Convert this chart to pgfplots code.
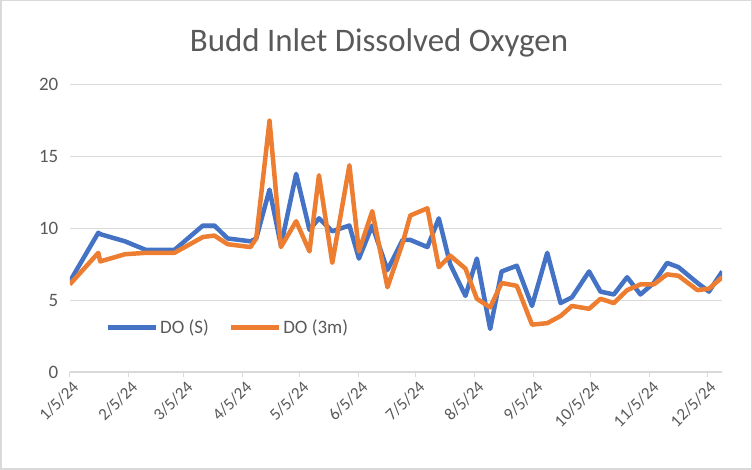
\documentclass[border=0pt]{standalone}
\usepackage{fontspec}
\setmainfont{Carlito}
\usepackage{pgfplots}
\pgfplotsset{compat=1.18}
\usepackage{pgfplotstable}
\definecolor{xlblue}{HTML}{4472C4}
\definecolor{xlorange}{HTML}{ED7D31}
\definecolor{xltext}{HTML}{595959}
\definecolor{xlgrid}{HTML}{D9D9D9}
\pgfplotstableread{
day S M
5 6.3 6.1
20 9.7 8.3
21 9.6 7.7
34 9.1 8.2
45 8.5 8.3
60 8.5 8.3
75 10.2 9.4
81 10.2 9.5
88 9.3 8.9
100 9.1 8.7
103 9.3 9.3
110 12.7 17.5
116 8.8 8.7
124 13.8 10.5
131 9.9 8.4
136 10.7 13.7
143 9.8 7.6
152 10.2 14.4
157 7.9 8.4
164 10.2 11.2
172 7.1 5.9
180 9.2 9.0
184 9.2 10.9
193 8.7 11.4
199 10.7 7.3
205 7.5 8.1
213 5.3 7.2
219 7.9 5.1
226 3.0 4.5
232 7.0 6.2
240 7.4 6.0
248 4.6 3.3
256 8.3 3.4
263 4.8 3.9
269 5.2 4.6
278 7.0 4.4
284 5.6 5.1
291 5.4 4.8
298 6.6 5.7
305 5.4 6.1
312 6.2 6.1
319 7.6 6.8
325 7.3 6.7
335 6.2 5.7
341 5.6 5.8
348 7.0 6.6
}\dotable
\begin{document}
\begin{tikzpicture}
\begin{axis}[
  name=ax,
  scale only axis,
  width=652bp, height=287bp,
  xmin=5, xmax=348, ymin=0, ymax=20,
  axis x line*=bottom,
  axis y line*=left,
  x axis line style={xlgrid, line width=1.5bp},
  y axis line style={draw=none},
  ytick={0,5,10,15,20},
  ytick style={draw=none},
  ymajorgrids,
  grid style={xlgrid, line width=1.2bp},
  xtick={5,36,65,96,126,157,187,218,249,279,310,340},
  xticklabels={1/5/24,2/5/24,3/5/24,4/5/24,5/5/24,6/5/24,7/5/24,8/5/24,9/5/24,10/5/24,11/5/24,12/5/24},
  x tick label style={rotate=45, anchor=north east, font=\fontsize{17}{20}\selectfont, text=xltext, inner sep=1bp, yshift=-2bp},
  y tick label style={font=\fontsize{19}{21}\selectfont, text=xltext},
  yticklabel style={xshift=-8bp},
  /pgf/number format/assume math mode=true,
  xtick align=outside,
  major tick length=5bp,
  x tick style={xlgrid, line width=1bp},
  legend style={at={(0.05,0.155)}, anchor=west, draw=none, fill=none, legend columns=2,
    font=\fontsize{19}{21}\selectfont, text=xltext,
    /tikz/every even column/.append style={column sep=18bp}},
  legend image code/.code={\draw[#1, line width=4.5bp] (0bp,0bp) -- (48bp,0bp);},
]
\addplot[xlblue, line width=4.5bp, line join=round] table[x=day, y=S] {\dotable};
\addlegendentry{DO (S)}
\addplot[xlorange, line width=4.5bp, line join=round] table[x=day, y=M] {\dotable};
\addlegendentry{DO (3m)}
\end{axis}
\draw[xlgrid, line width=1.5bp] ([xshift=-69bp,yshift=-97bp]ax.south west) rectangle ([xshift=29bp,yshift=84bp]ax.north east);
\node[text=xltext, font=\fontsize{33}{36}\selectfont] at ([xshift=-17bp,yshift=42bp]ax.north) {Budd Inlet Dissolved Oxygen};
\end{tikzpicture}
\end{document}
